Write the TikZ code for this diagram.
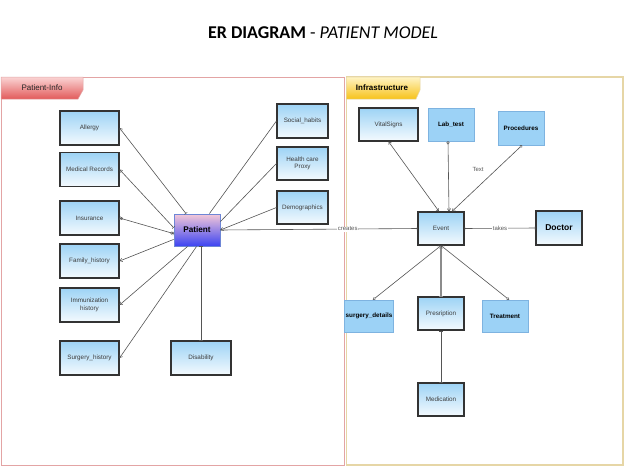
\documentclass[tikz,border=0pt]{standalone}
\usepackage{fontspec}
\setmainfont{Liberation Sans}
\newfontfamily\titlefont{Carlito}
\usetikzlibrary{arrows.meta,calc}

\definecolor{boxtop}{HTML}{9DD3F5}
\definecolor{boxbot}{HTML}{F4FAFE}
\definecolor{flatblue}{HTML}{9CD2F6}
\definecolor{flatedge}{HTML}{7EB3E0}
\definecolor{textgray}{HTML}{3C3C3C}
\definecolor{linegray}{HTML}{555555}
\definecolor{infoedge}{HTML}{E3A4A4}
\definecolor{infotop}{HTML}{FAD4D4}
\definecolor{infobot}{HTML}{E25A5A}
\definecolor{infraedge}{HTML}{E6D6A6}
\definecolor{infratop}{HTML}{FFF4C4}
\definecolor{infrabot}{HTML}{F7C21A}
\definecolor{pattop}{HTML}{F4C8D8}
\definecolor{patbot}{HTML}{3C44F2}
\definecolor{patedge}{HTML}{6E86D6}

\tikzset{
	entity/.style={draw=black!80, line width=1.1pt, top color=boxtop, bottom color=boxbot, minimum width=59pt, minimum height=34pt, inner sep=1pt, align=center, text=textgray, font=\fontsize{6.3}{7.6}\selectfont},
	flatent/.style={draw=flatedge, line width=0.6pt, fill=flatblue, minimum width=46pt, minimum height=33pt, inner sep=1pt, text=black, font=\bfseries\fontsize{6.3}{7.6}\selectfont},
	rel/.style={draw=linegray, line width=0.6pt},
	lbl/.style={fill=white, inner sep=0.5pt, text=black!65, font=\fontsize{6}{7}\selectfont},
	one/.tip={Bar[width=3.5pt,line width=0.5pt]},
	zero/.tip={Circle[open,length=3pt,width=3pt,line width=0.5pt]},
	foot/.tip={Straight Barb[length=2.5pt,width=3.5pt,line width=0.5pt]}
}

\begin{document}
\begin{tikzpicture}[x=1pt, y=-1pt]
			%%%%% START %%%%%
			\useasboundingbox[fill=white] (0,0) rectangle (626,466);
			
			\node[font=\titlefont\fontsize{18}{20}\selectfont] (title) at (323,33) {\textbf{ER DIAGRAM} - \textit{PATIENT MODEL}};
			
			% containers
			\draw[infoedge, line width=1pt] (1,77) rectangle (344,465);
			\draw[top color=infotop, bottom color=infobot, draw=infoedge, line width=0.5pt] (1,77) -- (83,77) -- (83,90) -- (78,99) -- (1,99) -- cycle;
			\node[font=\fontsize{8}{9}\selectfont, text=black!85] (infotab) at (42,88) {Patient-Info};
			
			\draw[infraedge, line width=1.2pt] (346.5,77) rectangle (623,465);
			\draw[top color=infratop, bottom color=infrabot, draw=infraedge, line width=0.5pt] (346.5,77) -- (420,77) -- (420,90) -- (416,99) -- (346.5,99) -- cycle;
			\node[font=\bfseries\fontsize{8}{9}\selectfont] (infratab) at (382,88) {Infrastructure};
			
			% patient info
			\node[entity] (allergy) at (89.5,128) {Allergy};
			\node[entity] (medrec) at (89.5,169.5) {Medical Records};
			\node[entity] (insur) at (89.5,218) {Insurance};
			\node[entity] (family) at (89.5,261) {Family\_history};
			\node[entity] (immun) at (89.5,305) {Immunization\\history};
			\node[entity] (surghist) at (89.5,358) {Surgery\_history};
			\node[entity, minimum width=60pt] (disab) at (201,358) {Disability};
			
			\node[entity, minimum width=51pt] (social) at (302.5,121) {Social\_habits};
			\node[entity, minimum width=51pt, minimum height=33pt] (proxy) at (302.5,163.5) {Health care\\Proxy};
			\node[entity, minimum width=51pt, minimum height=33pt] (demog) at (302.5,207.5) {Demographics};
			
			\node[draw=patedge, line width=0.8pt, top color=pattop, bottom color=patbot, minimum width=46pt, minimum height=32pt, font=\bfseries\fontsize{8.2}{9}\selectfont] (patient) at (197,230) {Patient};
			
			% infrastructure
			\node[entity, minimum height=33pt] (vital) at (388.5,124.5) {VitalSigns};
			\node[flatent] (labtest) at (451,124.5) {Lab\_test};
			\node[flatent, minimum height=34pt] (proced) at (521,128) {Procedures};
			\node[entity, minimum width=46pt, minimum height=33pt] (event) at (441,228.5) {Event};
			\node[entity, minimum width=46pt, text=black, font=\bfseries\fontsize{8.5}{10}\selectfont] (doctor) at (559,228) {Doctor};
			\node[flatent, minimum height=32pt] (surgdet) at (369,316) {surgery\_details};
			\node[entity, minimum width=46pt, minimum height=33pt] (presc) at (441,313.5) {Presription};
			\node[flatent, minimum height=32pt] (treat) at (505,316) {Treatment};
			\node[entity, minimum width=46pt, minimum height=33pt] (medic) at (441,399.5) {Medication};
			
			% relations
			\draw[rel, {foot}-{one}] (allergy.east) -- ([xshift=-11pt]patient.north);
			\draw[rel, {foot}-{one}] (medrec.east) -- ([yshift=-14pt]patient.north west);
			\draw[rel, {one[]zero}-{zero[]one}] (insur.east) -- ([yshift=-20pt]patient.north west);
			\draw[rel, {foot}-] (family.east) -- ([yshift=7pt]patient.south west);
			\draw[rel, {foot}-] (immun.east) -- ([xshift=14pt]patient.south west);
			\draw[rel, {foot}-] (surghist.east) -- ([xshift=23pt]patient.south west);
			\draw[rel, {one}-{one}] (disab.north) -- (disab.north |- patient.south);
			\draw[rel] (social.west) -- ([xshift=-11pt]patient.north east);
			\draw[rel] (proxy.west) -- ([yshift=-8pt]patient.north east);
			\draw[rel, -{foot}] (demog.west) -- (patient.east);
			\draw[rel, -{one}] (patient.east) -- node[lbl, pos=0.646] {creates} (event.west);
			
			\draw[rel, {foot}-{foot}] (vital.south) -- ([xshift=-2pt]event.north);
			\draw[rel, {zero}-{foot}] ([xshift=-3pt]labtest.south) -- ([xshift=8pt]event.north);
			\draw[rel, {zero}-{foot}] ([xshift=1pt]proced.south) -- node[pos=0.37, xshift=-18pt, lbl] {Text} ([xshift=11pt]event.north);
			\draw[rel, {one}-{one}] (event.east) -- node[lbl] {takes} (doctor.west);
			\draw[rel, {foot}-{zero}] (event.south) -- ([xshift=4pt]surgdet.north);
			\draw[rel, line width=1.2pt, draw=black!45, -{one}] (event.south) -- (presc.north);
			\draw[rel, {foot}-{zero}] (event.south) -- ([xshift=4pt]treat.north);
			\draw[rel, {one}-{one}] (presc.south) -- (medic.north);
			
			%%%%% END %%%%%
\end{tikzpicture}
\end{document}
